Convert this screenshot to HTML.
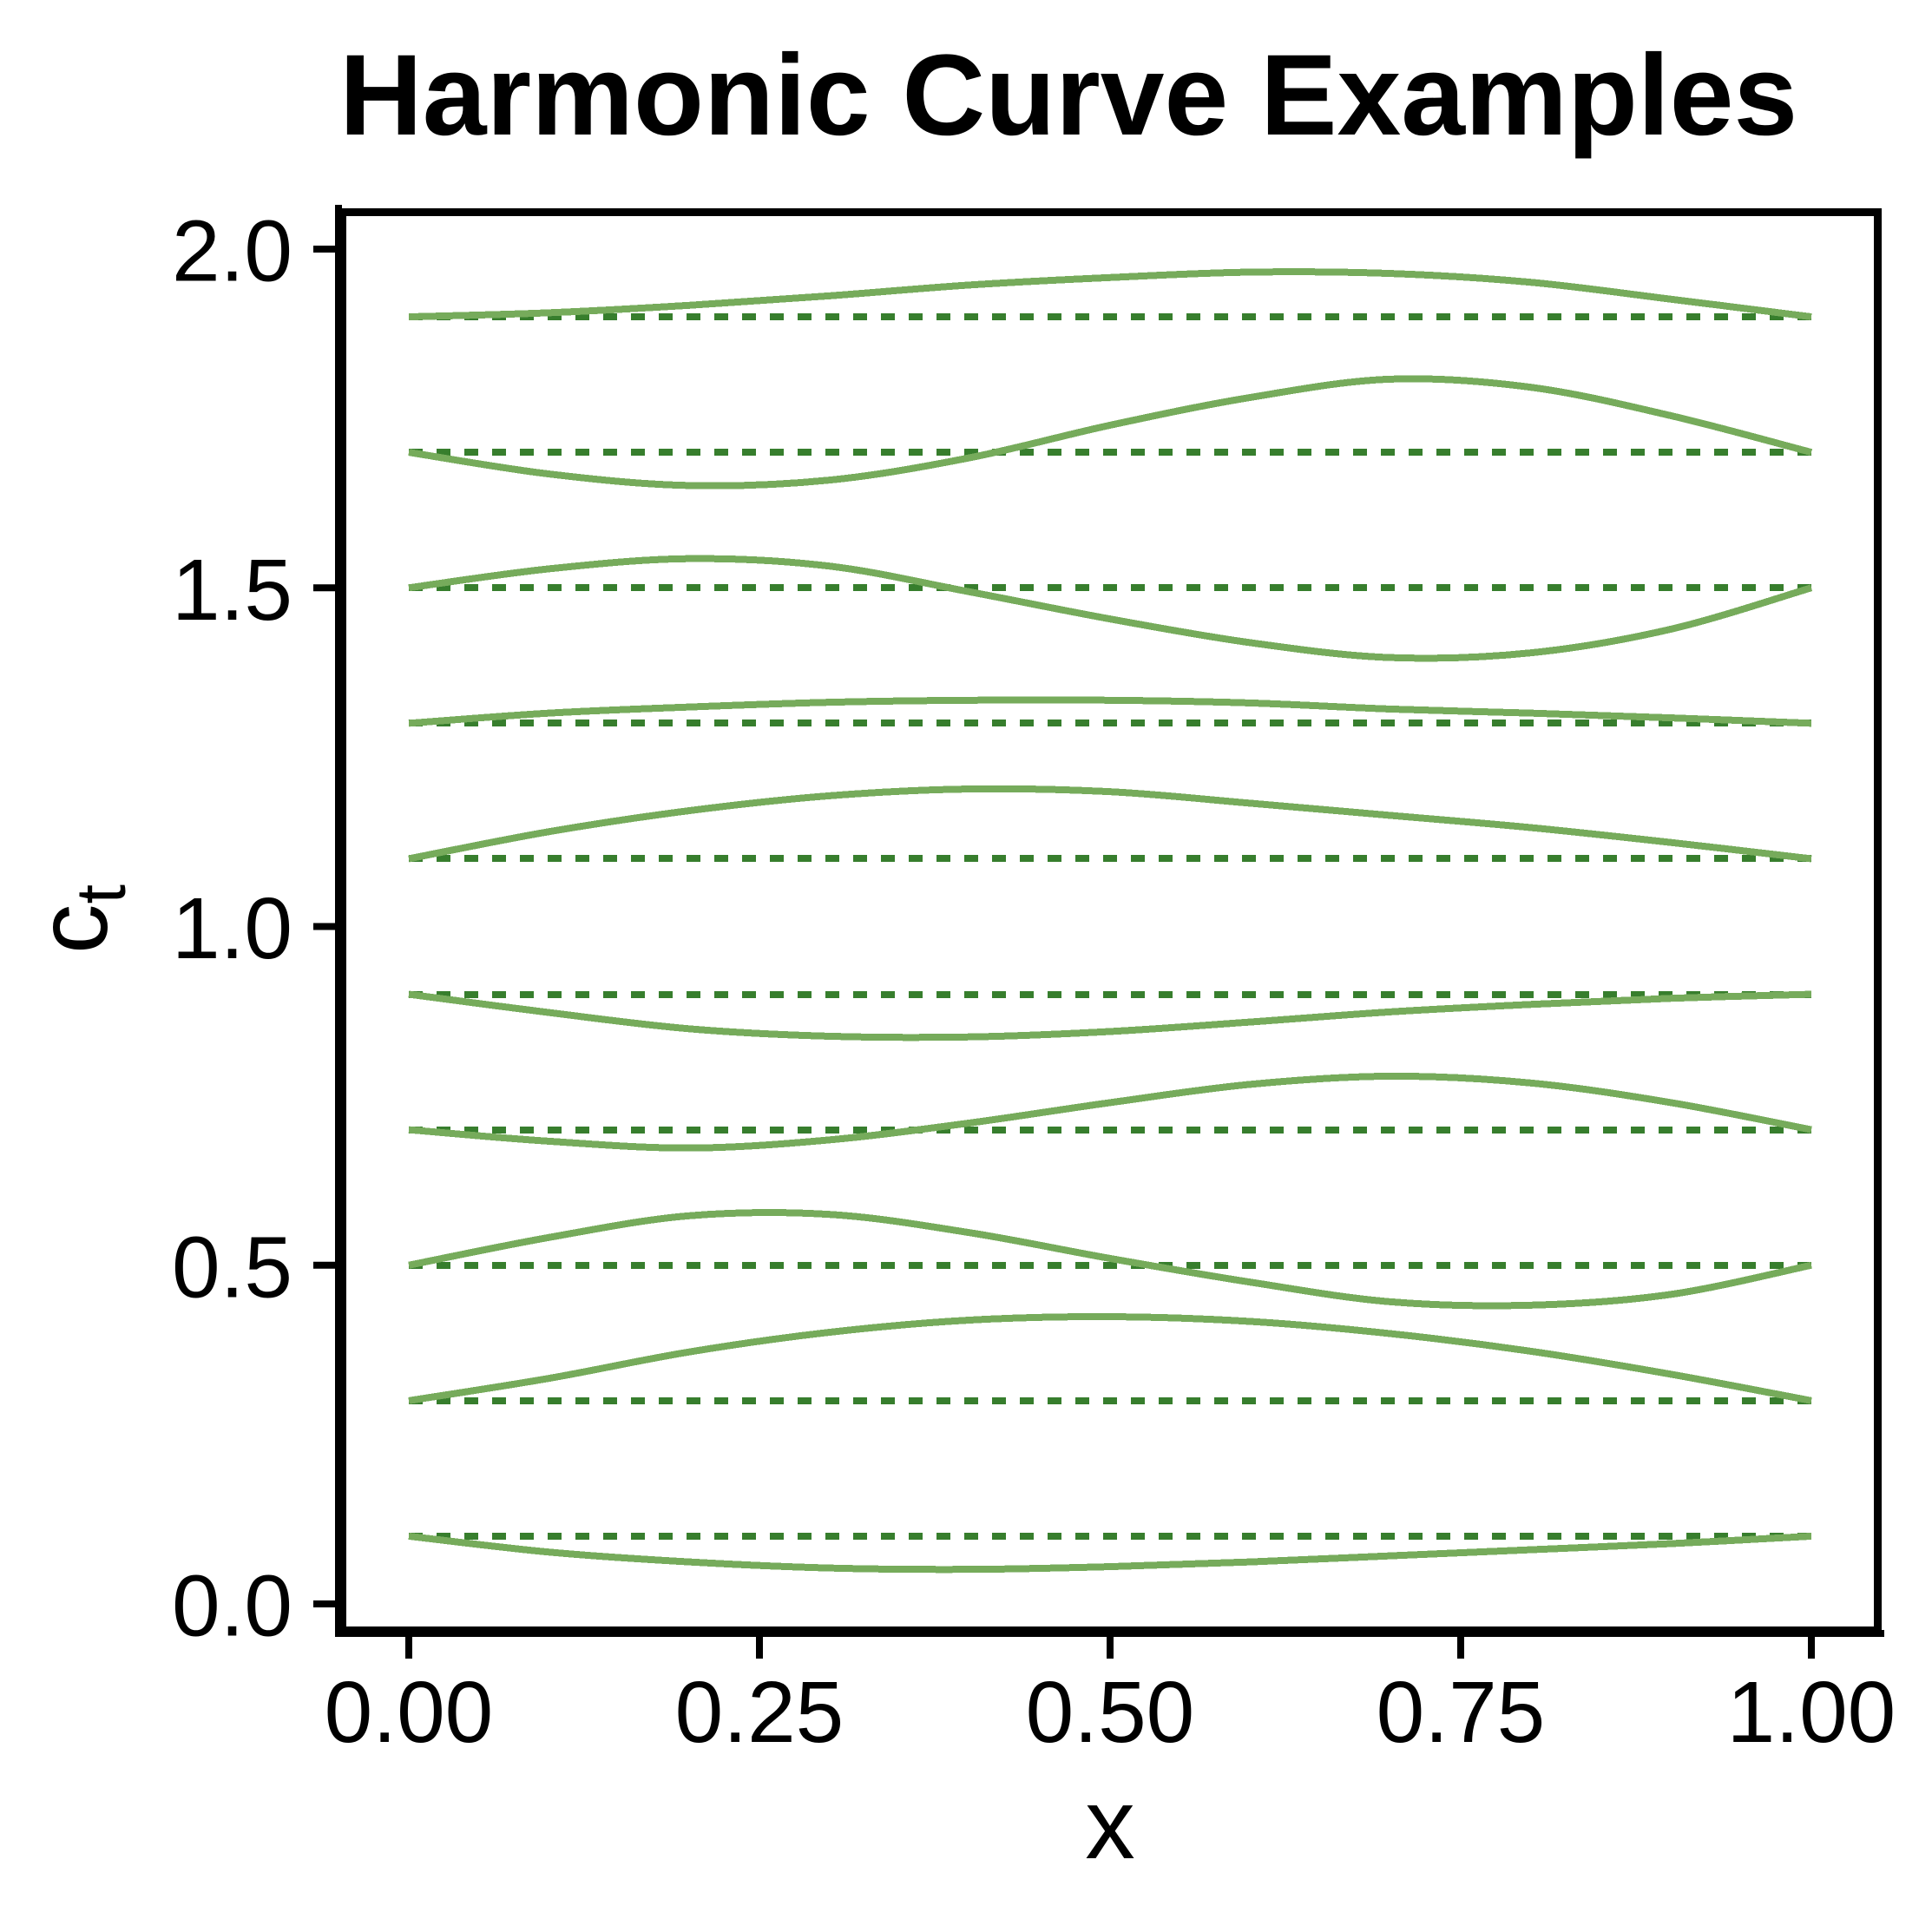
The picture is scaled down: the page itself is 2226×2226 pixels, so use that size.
<!DOCTYPE html>
<html lang="en">
<head>
<meta charset="utf-8">
<title>Harmonic Curve Examples</title>
<style>
html,body{margin:0;padding:0;background:#fff;}
svg{display:block;}
text{font-family:"Liberation Sans",Arial,sans-serif;fill:#000;}
</style>
</head>
<body>
<svg id="chart" xmlns="http://www.w3.org/2000/svg" width="2226" height="2226" viewBox="0 0 2226 2226">
  <rect x="0" y="0" width="2226" height="2226" fill="#fff"/>
  <text x="391" y="155" font-size="132.6" font-weight="700">Harmonic Curve Examples</text>
  <g id="series"></g>
  <g fill="#000">
    <rect x="390" y="240" width="1778" height="9"/>
    <rect x="2159" y="240" width="9" height="1643"/>
    <rect x="390" y="1874" width="1778" height="9"/>
    <rect x="390" y="240" width="9" height="1643"/>
  </g>
  <rect x="386" y="236" width="8" height="1650" fill="#000"/>
  <rect x="386" y="1878" width="1785" height="8" fill="#000"/>
  <g id="axes"></g>
  <text x="1279" y="2141" font-size="115" text-anchor="middle">x</text>
  <text transform="translate(123,1099) rotate(-90)" font-size="115">c<tspan dy="21" font-size="81">t</tspan></text>
</svg>
<script>
var xGrid = [0, 0.1, 0.2, 0.3, 0.4, 0.5, 0.6, 0.7, 0.8, 0.9, 1];
var xTicks = [0, 0.25, 0.5, 0.75, 1];
var xTickLabels = ["0.00", "0.25", "0.50", "0.75", "1.00"];
var yTicks = [0, 0.5, 1, 1.5, 2];
var yTickLabels = ["0.0", "0.5", "1.0", "1.5", "2.0"];
var baselines = [1.9, 1.7, 1.5, 1.3, 1.1, 0.9, 0.7, 0.5, 0.3, 0.1];
var curve19 = [1.9, 1.906, 1.917, 1.931, 1.947, 1.958, 1.966, 1.964, 1.951, 1.926, 1.9];
var curve17 = [1.7, 1.668, 1.651, 1.659, 1.692, 1.74, 1.781, 1.808, 1.796, 1.754, 1.7];
var curve15 = [1.5, 1.528, 1.543, 1.532, 1.494, 1.454, 1.419, 1.397, 1.404, 1.439, 1.5];
var curve13 = [1.3, 1.315, 1.324, 1.331, 1.334, 1.334, 1.33, 1.321, 1.315, 1.308, 1.3];
var curve11 = [1.1, 1.14, 1.171, 1.193, 1.203, 1.199, 1.182, 1.164, 1.146, 1.124, 1.1];
var curve09 = [0.9, 0.873, 0.849, 0.838, 0.837, 0.845, 0.859, 0.874, 0.885, 0.894, 0.9];
var curve07 = [0.7, 0.683, 0.673, 0.685, 0.71, 0.74, 0.767, 0.779, 0.769, 0.74, 0.7];
var curve05 = [0.5, 0.541, 0.573, 0.575, 0.548, 0.51, 0.475, 0.446, 0.441, 0.457, 0.5];
var curve03 = [0.3, 0.333, 0.372, 0.401, 0.419, 0.424, 0.417, 0.399, 0.373, 0.339, 0.3];
var curve01 = [0.1, 0.0765, 0.062, 0.053, 0.051, 0.055, 0.062, 0.071, 0.08, 0.089, 0.1];
var curves = [curve19, curve17, curve15, curve13, curve11, curve09, curve07, curve05, curve03, curve01];

var NS = "http://www.w3.org/2000/svg";
function sx(v) { return 471 + v * 1616; }
function sy(v) { return 1848 - v * 780.5; }

function smoothPath(xs, ys) {
  var pts = xs.map(function (x, i) { return [sx(x), sy(ys[i])]; });
  var d = "M" + pts[0][0] + "," + pts[0][1];
  for (var i = 0; i < pts.length - 1; i++) {
    var p0 = pts[Math.max(i - 1, 0)], p1 = pts[i], p2 = pts[i + 1], p3 = pts[Math.min(i + 2, pts.length - 1)];
    d += " C" + (p1[0] + (p2[0] - p0[0]) / 6) + "," + (p1[1] + (p2[1] - p0[1]) / 6) +
         " " + (p2[0] - (p3[0] - p1[0]) / 6) + "," + (p2[1] - (p3[1] - p1[1]) / 6) +
         " " + p2[0] + "," + p2[1];
  }
  return d;
}

var seriesGroup = document.getElementById("series");
baselines.forEach(function (b) {
  var line = document.createElementNS(NS, "line");
  line.setAttribute("x1", sx(0));
  line.setAttribute("x2", sx(1));
  line.setAttribute("y1", Math.round(sy(b)));
  line.setAttribute("y2", Math.round(sy(b)));
  line.setAttribute("stroke", "#377e2d");
  line.setAttribute("stroke-width", "8");
  line.setAttribute("stroke-dasharray", "16 16");
  line.setAttribute("shape-rendering", "crispEdges");
  
  
  seriesGroup.appendChild(line);
});
curves.forEach(function (c) {
  var path = document.createElementNS(NS, "path");
  path.setAttribute("d", smoothPath(xGrid, c));
  path.setAttribute("fill", "none");
  path.setAttribute("stroke", "#76ab5b");
  path.setAttribute("stroke-width", "8");
  path.setAttribute("shape-rendering", "crispEdges");
  
  
  seriesGroup.appendChild(path);
});

var axes = document.getElementById("axes");
xTicks.forEach(function (t, i) {
  var tick = document.createElementNS(NS, "rect");
  tick.setAttribute("x", sx(t) - 4);
  tick.setAttribute("y", 1886);
  tick.setAttribute("width", 8);
  tick.setAttribute("height", 25);
  tick.setAttribute("fill", "#000");
  
  
  axes.appendChild(tick);
  var label = document.createElementNS(NS, "text");
  label.setAttribute("x", sx(t));
  label.setAttribute("y", 2007);
  label.setAttribute("font-size", "100");
  label.setAttribute("text-anchor", "middle");
  label.textContent = xTickLabels[i];
  
  
  axes.appendChild(label);
});
yTicks.forEach(function (t, i) {
  var tick = document.createElementNS(NS, "rect");
  tick.setAttribute("x", 361);
  tick.setAttribute("y", sy(t) - 4);
  tick.setAttribute("width", 25);
  tick.setAttribute("height", 8);
  tick.setAttribute("fill", "#000");
  
  
  axes.appendChild(tick);
  var label = document.createElementNS(NS, "text");
  label.setAttribute("x", 337);
  label.setAttribute("y", sy(t) + 36.5);
  label.setAttribute("font-size", "100");
  label.setAttribute("text-anchor", "end");
  label.textContent = yTickLabels[i];
  
  
  axes.appendChild(label);
});
</script>
</body>
</html>
